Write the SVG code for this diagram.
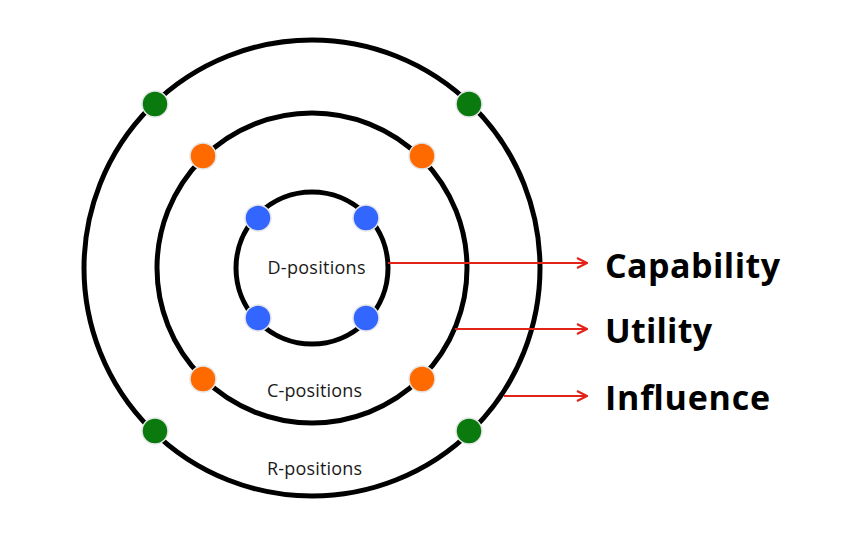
<svg xmlns="http://www.w3.org/2000/svg" width="866" height="547" viewBox="0 0 866 547">
  <style>
    .ring { fill: none; stroke: #000; stroke-width: 5; }
    .dot { stroke: #e6e6e6; stroke-width: 1.5; }
    .g { fill: #0a7a0e; }
    .o { fill: #ff6a00; }
    .b { fill: #3366ff; }
    .lbl { font-family: "Open Sans", "Liberation Sans", sans-serif; font-size: 18px; fill: #1a1a1a; }
    .big { font-family: "Open Sans", "Liberation Sans", sans-serif; font-size: 34px; font-weight: 700; fill: #000; }
    .arr { stroke: #e2231a; stroke-width: 2.2; fill: none; }
  </style>
  <defs>
    <marker id="ah" viewBox="0 0 12 12" refX="11" refY="6" markerWidth="12" markerHeight="12" markerUnits="userSpaceOnUse" orient="auto">
      <path d="M1,1 L11,6 L1,11" fill="none" stroke="#e2231a" stroke-width="2.2"/>
    </marker>
  </defs>
  <rect width="866" height="547" fill="#fff"/>

  <g id="ring-R">
    <circle class="ring" cx="312" cy="268" r="228"/>
    <text class="lbl" x="314.5" y="475" text-anchor="middle" textLength="95">R-positions</text>
  </g>
  <g id="ring-C">
    <circle class="ring" cx="312" cy="268" r="155"/>
    <text class="lbl" x="314.5" y="397" text-anchor="middle" textLength="95">C-positions</text>
  </g>
  <g id="ring-D">
    <circle class="ring" cx="312" cy="268" r="76"/>
    <text class="lbl" x="316.5" y="274" text-anchor="middle" textLength="98">D-positions</text>
  </g>

  <g id="dots-R">
    <circle class="dot g" cx="155" cy="104" r="13"/>
    <circle class="dot g" cx="469" cy="104" r="13"/>
    <circle class="dot g" cx="155" cy="431" r="13"/>
    <circle class="dot g" cx="469" cy="431" r="13"/>
  </g>
  <g id="dots-C">
    <circle class="dot o" cx="203" cy="156" r="13"/>
    <circle class="dot o" cx="422" cy="156" r="13"/>
    <circle class="dot o" cx="203" cy="379" r="13"/>
    <circle class="dot o" cx="422" cy="379" r="13"/>
  </g>
  <g id="dots-D">
    <circle class="dot b" cx="258" cy="218" r="13"/>
    <circle class="dot b" cx="366" cy="218" r="13"/>
    <circle class="dot b" cx="258" cy="318" r="13"/>
    <circle class="dot b" cx="366" cy="318" r="13"/>
  </g>

  <g id="connectors">
    <line class="arr" x1="388" y1="263" x2="587" y2="263" marker-end="url(#ah)"/>
    <line class="arr" x1="455" y1="329" x2="587" y2="329" marker-end="url(#ah)"/>
    <line class="arr" x1="504" y1="396" x2="587" y2="396" marker-end="url(#ah)"/>
  </g>

  <g id="capability">
    <text class="big" x="605" y="278" textLength="175">Capability</text>
  </g>
  <g id="utility">
    <text class="big" x="605" y="343" textLength="107">Utility</text>
  </g>
  <g id="influence">
    <text class="big" x="605" y="410" textLength="165">Influence</text>
  </g>
</svg>
